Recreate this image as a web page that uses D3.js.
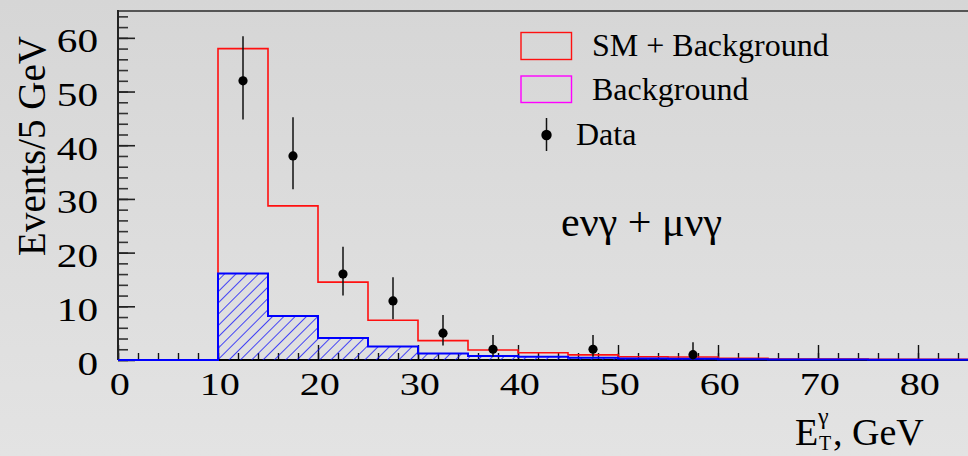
<!DOCTYPE html>
<html>
<head>
<meta charset="utf-8">
<script src="https://cdn.jsdelivr.net/npm/d3@7"></script>
<style>
  html, body { margin: 0; padding: 0; background: #dcdcdc; }
  svg { display: block; }
  text { font-family: "Liberation Serif", "DejaVu Serif", serif; fill: #000; }
</style>
</head>
<body>
<svg id="chart" width="968" height="456"></svg>
<script>
// Photon ET spectrum, 5 GeV bins (low edges), W(→eν,μν)+γ candidates
const binLow = [0, 5, 10, 15, 20, 25, 30, 35, 40, 45, 50, 55, 60, 65, 70, 75, 80];
const binWidth = 5;
const smPlusBkg = [0, 0, 58, 28.7, 14.5, 7.4, 3.6, 1.85, 1.35, 0.95, 0.6, 0.55, 0.3, 0.2, 0.2, 0.15, 0.15];
const bkgOnly   = [0, 0, 16.1, 8.2, 4.1, 2.5, 1.2, 0.75, 0.6, 0.4, 0.3, 0.22, 0.15, 0.1, 0.1, 0.05, 0.05];

// Observed events with asymmetric errors
const dataX    = [12.5, 17.5, 22.5, 27.5, 32.5, 37.5, 47.5, 57.5];
const dataY    = [52, 38, 16, 11, 5, 2, 2, 1];
const dataErrHi = [8.3, 7.2, 5.1, 4.4, 3.4, 2.65, 2.65, 2.3];
const dataErrLo = [7.2, 6.2, 4.0, 3.4, 2.3, 1.4, 1.4, 0.9];

const yMajorTicks = [0, 10, 20, 30, 40, 50, 60];
const xMajorTicks = [0, 10, 20, 30, 40, 50, 60, 70, 80];

const legendLabels = ["SM + Background", "Background", "Data"];

const svg = d3.select("#chart");
const W = 968, H = 456;

const x = d3.scaleLinear().domain([0, 85]).range([118, 968]);
const y = d3.scaleLinear().domain([0, 65]).range([360, 11]);

// Background gradient
const defs = svg.append("defs");
const grad = defs.append("linearGradient").attr("id", "bg").attr("x1", 0).attr("y1", 0).attr("x2", 0).attr("y2", 1);
grad.append("stop").attr("offset", "0%").attr("stop-color", "#d6d6d6");
grad.append("stop").attr("offset", "100%").attr("stop-color", "#e3e3e3");

const hatch = defs.append("pattern").attr("id", "hatch")
  .attr("patternUnits", "userSpaceOnUse").attr("width", 8).attr("height", 8)
  .attr("patternTransform", "rotate(45)");
hatch.append("line").attr("x1", 0).attr("y1", 0).attr("x2", 0).attr("y2", 8)
  .attr("stroke", "#0000ff").attr("stroke-width", 1.4);

svg.append("rect").attr("width", W).attr("height", H).attr("fill", "url(#bg)");

// Step outline of a histogram
function stepPath(vals, close) {
  const p = d3.path();
  p.moveTo(x(binLow[0]), y(0));
  vals.forEach((v, i) => {
    p.lineTo(x(binLow[i]), y(v));
    p.lineTo(x(binLow[i] + binWidth), y(v));
  });
  p.lineTo(x(binLow[binLow.length - 1] + binWidth), y(0));
  if (close) p.closePath();
  return p.toString();
}

// Axes: minor ticks every 2 units, major every 10, all pointing inward
const yMinor = svg.append("g").attr("transform", `translate(${x(0)},0)`)
  .call(d3.axisLeft(y).tickValues(d3.range(0, 65, 2)).tickSize(-10).tickFormat(""));
yMinor.select(".domain").remove();
yMinor.selectAll("line").attr("stroke", "#333").attr("stroke-width", 1.6);

const yMajor = svg.append("g").attr("transform", `translate(${x(0)},0)`)
  .call(d3.axisLeft(y).tickValues(yMajorTicks).tickSize(-17).tickPadding(20));
yMajor.select(".domain").remove();
yMajor.selectAll("line").attr("stroke", "#222").attr("stroke-width", 1.6);
yMajor.selectAll("text")
  .attr("font-size", 33).attr("font-family", "Liberation Serif")
  .attr("x", -20 / 1.25).attr("dy", 14)
  .attr("transform", "scale(1.25,1)");

const xMinor = svg.append("g").attr("transform", `translate(0,${y(0)})`)
  .call(d3.axisBottom(x).tickValues(d3.range(0, 86, 2)).tickSize(-7).tickFormat(""));
xMinor.select(".domain").remove();
xMinor.selectAll("line").attr("stroke", "#111").attr("stroke-width", 1.4);

const xMajor = svg.append("g").attr("transform", `translate(0,${y(0)})`)
  .call(d3.axisBottom(x).tickValues(xMajorTicks).tickSize(-15));
xMajor.select(".domain").remove();
xMajor.selectAll("line").attr("stroke", "#111").attr("stroke-width", 1.4);
xMajor.selectAll("text")
  .attr("font-size", 31).attr("font-family", "Liberation Serif")
  .attr("y", 35).attr("dy", 0).attr("x", 1)
  .attr("transform", "scale(1.3,1)");

// Frame
svg.append("line").attr("x1", x(0)).attr("x2", W).attr("y1", y(65)).attr("y2", y(65))
  .attr("stroke", "#555").attr("stroke-width", 2);
svg.append("line").attr("x1", x(0)).attr("x2", x(0)).attr("y1", y(65) - 1).attr("y2", y(0))
  .attr("stroke", "#222").attr("stroke-width", 2);
svg.append("line").attr("x1", x(0)).attr("x2", W).attr("y1", y(0)).attr("y2", y(0))
  .attr("stroke", "#000").attr("stroke-width", 2);

// SM + background histogram
svg.append("path").attr("d", stepPath(smPlusBkg, false))
  .attr("fill", "none").attr("stroke", "#ff1010").attr("stroke-width", 1.6);

// Background histogram, hatched
svg.append("path").attr("d", stepPath(bkgOnly, true)).attr("fill", "url(#hatch)").attr("stroke", "none");
svg.append("path").attr("d", stepPath(bkgOnly, false))
  .attr("fill", "none").attr("stroke", "#0000ff").attr("stroke-width", 2);

// Data points with error bars
const pts = svg.append("g");
dataX.forEach((dx, i) => {
  pts.append("line")
    .attr("x1", x(dx)).attr("x2", x(dx))
    .attr("y1", y(dataY[i] + dataErrHi[i])).attr("y2", y(dataY[i] - dataErrLo[i]))
    .attr("stroke", "#111").attr("stroke-width", 1.5);
  pts.append("circle").attr("cx", x(dx)).attr("cy", y(dataY[i])).attr("r", 4.6).attr("fill", "#000");
});

// Legend
const lg = svg.append("g");
lg.append("rect").attr("x", 521).attr("y", 32.5).attr("width", 50.5).attr("height", 27)
  .attr("fill", "none").attr("stroke", "#ff1010").attr("stroke-width", 1.4);
lg.append("rect").attr("x", 521).attr("y", 76).attr("width", 50.5).attr("height", 26.5)
  .attr("fill", "none").attr("stroke", "#ff00ff").attr("stroke-width", 1.4);
lg.append("line").attr("x1", 546.5).attr("x2", 546.5).attr("y1", 118).attr("y2", 151)
  .attr("stroke", "#111").attr("stroke-width", 1.5);
lg.append("circle").attr("cx", 546.5).attr("cy", 135).attr("r", 5.2).attr("fill", "#000");
lg.append("text").attr("x", 592).attr("y", 56).attr("font-size", 32).text(legendLabels[0]);
lg.append("text").attr("x", 592).attr("y", 100).attr("font-size", 32).text(legendLabels[1]);
lg.append("text").attr("x", 576).attr("y", 145).attr("font-size", 32).text(legendLabels[2]);

// Channel label
svg.append("text").attr("x", 561).attr("y", 236).attr("font-size", 42)
  .attr("font-family", "Liberation Serif").text("eνγ + μνγ");

// Axis titles
svg.append("text").attr("transform", "translate(45,146) rotate(-90)")
  .attr("text-anchor", "middle").attr("font-size", 39).text("Events/5 GeV");

const xt = svg.append("g");
xt.append("text").attr("x", 795).attr("y", 445).attr("font-size", 38).text("E");
xt.append("text").attr("x", 818).attr("y", 424).attr("font-size", 24).text("γ");
xt.append("text").attr("x", 819).attr("y", 450).attr("font-size", 20).text("T");
xt.append("text").attr("x", 833).attr("y", 445).attr("font-size", 38).text(", GeV");
</script>
</body>
</html>
